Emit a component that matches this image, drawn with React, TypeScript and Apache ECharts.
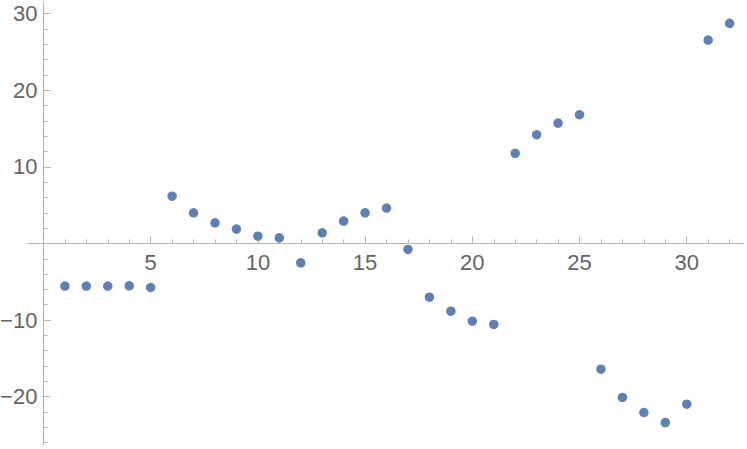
import React, { useEffect, useRef } from "react";
import * as echarts from "echarts";

const xValues = [1, 2, 3, 4, 5, 6, 7, 8, 9, 10, 11, 12, 13, 14, 15, 16, 17, 18, 19, 20, 21, 22, 23, 24, 25, 26, 27, 28, 29, 30, 31, 32];
const yValues = [-5.57, -5.57, -5.57, -5.53, -5.75, 6.17, 4.0, 2.69, 1.87, 0.95, 0.73, -2.53, 1.38, 2.91, 4.0, 4.61, -0.78, -7.01, -8.84, -10.14, -10.57, 11.75, 14.18, 15.7, 16.79, -16.41, -20.1, -22.06, -23.37, -20.98, 26.54, 28.72];

const xMajor = [5, 10, 15, 20, 25, 30];
const xMinor = [1, 2, 3, 4, 6, 7, 8, 9, 11, 12, 13, 14, 16, 17, 18, 19, 21, 22, 23, 24, 26, 27, 28, 29, 31, 32];
const yMajor = [-20, -10, 10, 20, 30];
const yMinor = [-26, -24, -22, -18, -16, -14, -12, -8, -6, -4, -2, 2, 4, 6, 8, 12, 14, 16, 18, 22, 24, 26, 28];

const X_MIN = -0.72;
const X_MAX = 32.67;
const Y_MIN = -26.3;
const Y_MAX = 31.5;

const W = 747;
const H = 449;
const G_LEFT = 28;
const G_RIGHT = 3;
const G_TOP = 2;
const G_BOTTOM = 4;

// pixel position of zero lines (for the label axes, which sit on the zero lines)
const plotW = W - G_LEFT - G_RIGHT;
const plotH = H - G_TOP - G_BOTTOM;
const zeroXpx = G_LEFT + ((0 - X_MIN) / (X_MAX - X_MIN)) * plotW;
const zeroYpx = G_TOP + ((Y_MAX - 0) / (Y_MAX - Y_MIN)) * plotH;
const xLabelOffset = zeroYpx - (H - G_BOTTOM); // negative: move up
const yLabelOffset = G_LEFT - zeroXpx; // negative: move right

const AXIS_COLOR = "#b3b3b3";
const LABEL_COLOR = "#646464";
const FONT = "Liberation Sans, Arial, sans-serif";
const FONT_SIZE = 22;

const fmt = (v: number) => (v < 0 ? "\u2212" + Math.abs(v) : String(v));

export default function App() {
  const ref = useRef<HTMLDivElement>(null);
  useEffect(() => {
    if (!ref.current) return;
    const chart = echarts.init(ref.current, undefined, { renderer: "svg" });
    const data = xValues.map((x, i) => [x, yValues[i]]);
    chart.setOption({
      animation: false,
      backgroundColor: "#ffffff",
      grid: { left: G_LEFT, right: G_RIGHT, top: G_TOP, bottom: G_BOTTOM, containLabel: false, outerBoundsMode: "none" },
      xAxis: [
        {
          type: "value",
          min: X_MIN,
          max: X_MAX,
          position: "bottom",
          axisLine: { show: true, onZero: true, lineStyle: { color: AXIS_COLOR, width: 1 } },
          axisTick: { show: true, inside: true, length: 4, customValues: xMinor, lineStyle: { color: AXIS_COLOR } },
          axisLabel: { show: false },
          splitLine: { show: false },
        },
        {
          type: "value",
          min: X_MIN,
          max: X_MAX,
          position: "bottom",
          offset: xLabelOffset,
          axisLine: { show: false, onZero: false },
          axisTick: { show: true, inside: true, length: 7, customValues: xMajor, lineStyle: { color: AXIS_COLOR } },
          axisLabel: {
            show: true,
            customValues: xMajor,
            formatter: fmt,
            color: LABEL_COLOR,
            fontSize: FONT_SIZE,
            fontFamily: FONT,
            margin: 8,
          },
          splitLine: { show: false },
        },
      ],
      yAxis: [
        {
          type: "value",
          min: Y_MIN,
          max: Y_MAX,
          position: "left",
          axisLine: { show: true, onZero: true, lineStyle: { color: AXIS_COLOR, width: 1 } },
          axisTick: { show: true, inside: true, length: 4, customValues: yMinor, lineStyle: { color: AXIS_COLOR } },
          axisLabel: { show: false },
          splitLine: { show: false },
        },
        {
          type: "value",
          min: Y_MIN,
          max: Y_MAX,
          position: "left",
          offset: yLabelOffset,
          axisLine: { show: false, onZero: false },
          axisTick: { show: true, inside: true, length: 7, customValues: yMajor, lineStyle: { color: AXIS_COLOR } },
          axisLabel: {
            show: true,
            customValues: yMajor,
            formatter: fmt,
            color: LABEL_COLOR,
            fontSize: FONT_SIZE,
            fontFamily: FONT,
            margin: 6,
          },
          splitLine: { show: false },
        },
      ],
      series: [
        {
          type: "scatter",
          xAxisIndex: 0,
          yAxisIndex: 0,
          data,
          symbol: "circle",
          symbolSize: 9.5,
          itemStyle: { color: "#5E81B5", opacity: 1 },
        },
      ],
    });
    return () => chart.dispose();
  }, []);
  return (
    <div
      ref={ref}
      style={{ position: "absolute", left: 0, top: 0, width: W, height: H }}
    />
  );
}
